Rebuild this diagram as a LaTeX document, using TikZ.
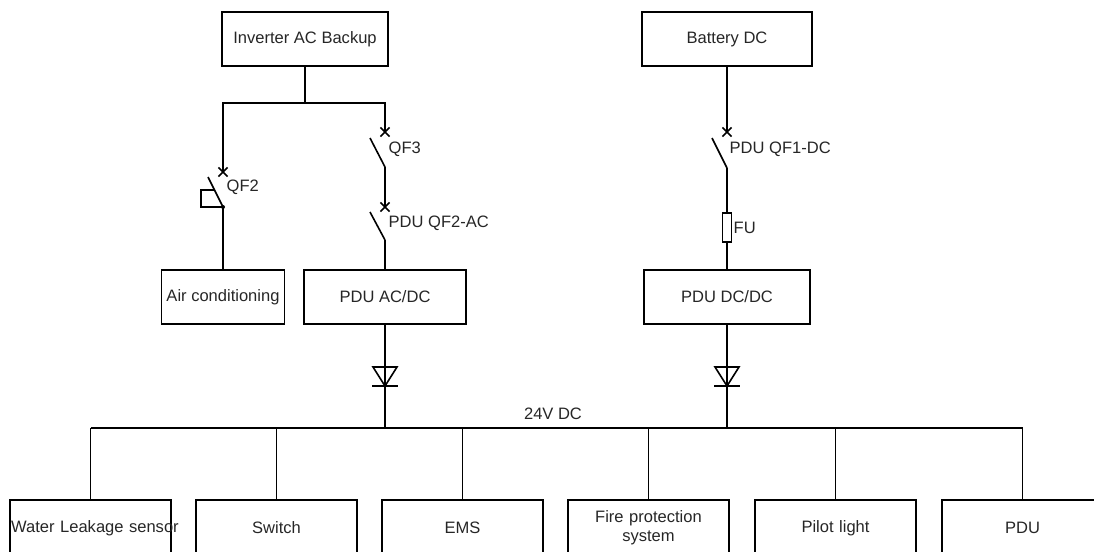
\documentclass[tikz,border=0pt]{standalone}
\usepackage{fontspec}
\setmainfont{Liberation Sans}
\usetikzlibrary{shapes.misc,positioning}
\begin{document}
\begin{tikzpicture}[x=0.75pt,y=-0.75pt,line width=1pt,
        font=\fontsize{12.4}{14.3}\selectfont,
        box/.style={rectangle,draw,line width=1.2pt,minimum height=40.5pt,inner sep=1pt,text=black!85},
        load/.style={box,minimum height=42pt,text width=119pt,align=center},
        xmark/.style={cross out,draw,line width=1.3pt,minimum size=5.5pt,inner sep=0pt},
        dot/.style={circle,fill,inner sep=0pt,minimum size=3pt},
        fuse/.style={rectangle,draw,line width=1.1pt,minimum width=6.75pt,minimum height=21.75pt,inner sep=0pt},
        lbl/.style={anchor=west,inner sep=0pt,text=black!85},
        drop/.style={line width=1.3pt},
        bus/.style={line width=1.8pt}]
        \useasboundingbox (0,0) rectangle (1094,551);
        \clip (0,0) rectangle (1094,551);
        % sources
        \node[box,minimum width=124.5pt] (inv) at (305,39) {Inverter AC Backup};
        \node[box,minimum width=127.5pt] (bat) at (727,39) {Battery DC};
        % converters and AC load
        \node[box,minimum width=92.25pt] (air) at (223,297) {Air conditioning};
        \node[box,minimum width=121.5pt] (acdc) at (385,297) {PDU AC/DC};
        \node[box,minimum width=124.5pt] (dcdc) at (727,297) {PDU DC/DC};
        % breakers
        \coordinate (j1) at (305,103);
        \node[xmark] (x2) at (223,172) {};
        \node[xmark] (x3) at (385,132) {};
        \node[xmark] (x4) at (385,207) {};
        \node[xmark] (x1) at (727,132) {};
        \coordinate (b2t) at (208,177); \coordinate (b2b) at (223,207);
        \coordinate (b3t) at (370,138); \coordinate (b3b) at (385,167);
        \coordinate (b4t) at (370,212); \coordinate (b4b) at (385,240);
        \coordinate (b1t) at (712,138); \coordinate (b1b) at (727,168);
        \node[fuse] (fu) at (727,227.5) {};
        \node[lbl] at (226,187) {QF2};
        \node[lbl] at (388,149) {QF3};
        \node[lbl] at (388,223) {PDU QF2-AC};
        \node[lbl] at (729,149) {PDU QF1-DC};
        \node[lbl] at (733,228) {FU};
        % AC side
        \draw (inv) -- (j1);
        \draw (x2.center) |- (j1) -| (x3.center);
        \draw[line width=1.2pt] (b2t) -- (b2b);
        \draw (b2b) -- ++(-22,0) -- ++(0,-17) -- ++(13.5,0);
        \node[dot] at (b2b) {};
        \draw (b2b) -- (b2b |- air.north);
        \draw[line width=1.2pt] (b3t) -- (b3b);
        \draw (b3b) -- (x4.center);
        \draw[line width=1.2pt] (b4t) -- (b4b);
        \draw (b4b) -- (acdc);
        % DC side
        \draw (bat) -- (x1.center);
        \draw[line width=1.2pt] (b1t) -- (b1b);
        \draw (b1b) -- (fu);
        \draw (fu) -- (dcdc);
        % loads
        \coordinate (busy) at (0,428);
        \foreach \n/\x/\t in {w/90.5/\mbox{Water Leakage sensor},s/276.5/Switch,e/462.5/EMS,
            f/648.5/Fire protection\\system,l/835.5/Pilot light,p/1022.5/PDU}
          \node[load] (\n) at (\x,528) {\t};
        \draw[bus] (w.north |- busy) -- (p.north |- busy);
        \foreach \n in {w,s,e,f,l,p}
          \draw[drop] (\n.north) -- (\n.north |- busy);
        \node (vdc) at (553,414) [text=black!85,inner sep=0pt] {24V DC};
        % diodes
        \draw (acdc) -- (acdc.south |- busy);
        \draw (dcdc) -- (dcdc.south |- busy);
        \coordinate (d1) at (385,386);
        \coordinate (d2) at (727,386);
        \foreach \d in {d1,d2} {
          \draw[line width=1.2pt] (\d) -- ++(-12,-19) -- ++(24,0) -- cycle;
          \draw (\d) ++(-13,0) -- ++(26,0);
        }
\end{tikzpicture}
\end{document}
